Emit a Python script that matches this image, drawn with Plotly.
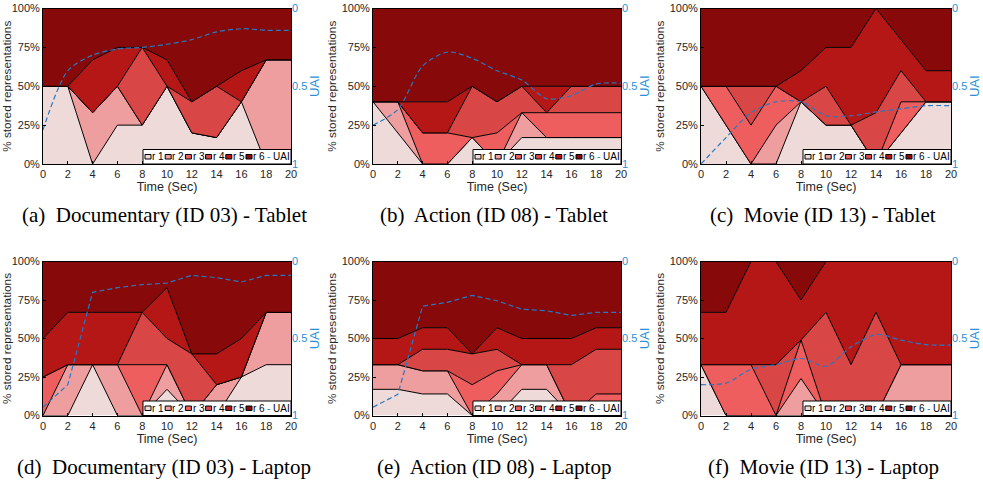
import plotly.graph_objects as go

# ---------------- data ----------------
time_s = [0, 2, 4, 6, 8, 10, 12, 14, 16, 18, 20]
rep_names = ["r 1", "r 2", "r 3", "r 4", "r 5", "r 6"]
tick_pct = [0, 25, 50, 75, 100]
tick_pct_text = ["0%", "25%", "50%", "75%", "100%"]
tick_uai = [0, 0.5, 1]
tick_uai_text = ["0", "0.5", "1"]
captions = [
    "(a)  Documentary (ID 03) - Tablet",
    "(b)  Action (ID 08) - Tablet",
    "(c)  Movie (ID 13) - Tablet",
    "(d)  Documentary (ID 03) - Laptop",
    "(e)  Action (ID 08) - Laptop",
    "(f)  Movie (ID 13) - Laptop",
]

# % of stored representations, per representation r1..r6
doc_tablet = [
    [50, 50, 0, 25, 25, 50, 20, 17, 40, 0, 0],
    [0, 0, 33, 25, 0, 0, 0, 0, 0, 67, 67],
    [0, 0, 0, 0, 0, 0, 0, 0, 0, 0, 0],
    [0, 0, 0, 0, 50, 0, 20, 33, 0, 0, 0],
    [0, 0, 34, 25, 0, 17, 0, 0, 20, 0, 0],
    [50, 50, 33, 25, 25, 33, 60, 50, 40, 33, 33],
]
act_tablet = [
    [40, 20, 0, 0, 17, 0, 17, 17, 17, 17, 17],
    [0, 20, 0, 0, 0, 0, 16, 0, 0, 0, 0],
    [0, 0, 20, 20, 0, 20, 0, 16, 16, 16, 16],
    [0, 0, 0, 0, 33, 20, 17, 0, 17, 17, 17],
    [0, 0, 20, 20, 0, 0, 0, 17, 0, 0, 0],
    [60, 60, 60, 60, 50, 60, 50, 50, 50, 50, 50],
]
mov_tablet = [
    [50, 25, 0, 0, 40, 25, 25, 0, 20, 40, 40],
    [0, 0, 0, 25, 0, 0, 0, 0, 0, 0, 0],
    [0, 25, 25, 25, 0, 0, 0, 0, 20, 0, 0],
    [0, 0, 25, 0, 0, 25, 0, 33, 20, 0, 0],
    [0, 0, 0, 0, 20, 25, 50, 67, 20, 20, 20],
    [50, 50, 50, 50, 40, 25, 25, 0, 20, 40, 40],
]
doc_laptop = [
    [0, 0, 33, 0, 0, 17, 0, 0, 25, 33, 33],
    [0, 33, 0, 33, 0, 16, 0, 20, 0, 34, 34],
    [25, 0, 0, 0, 33, 0, 0, 0, 0, 0, 0],
    [0, 0, 0, 0, 34, 17, 40, 0, 0, 0, 0],
    [25, 34, 34, 34, 0, 33, 0, 20, 25, 0, 0],
    [50, 33, 33, 33, 33, 17, 60, 60, 50, 33, 33],
]
act_laptop = [
    [17, 17, 14, 14, 0, 0, 17, 17, 0, 0, 0],
    [16, 16, 15, 15, 0, 14, 16, 16, 0, 0, 0],
    [0, 0, 0, 0, 20, 15, 0, 0, 0, 14, 14],
    [0, 0, 14, 14, 20, 14, 0, 0, 33, 29, 29],
    [17, 17, 14, 14, 0, 14, 17, 17, 17, 14, 14],
    [50, 50, 43, 43, 60, 43, 50, 50, 50, 43, 43],
]
mov_laptop = [
    [33, 0, 0, 0, 0, 0, 0, 0, 0, 0, 0],
    [0, 0, 0, 0, 24, 0, 0, 0, 33, 33, 33],
    [0, 33, 33, 0, 25, 0, 0, 0, 0, 0, 0],
    [0, 0, 0, 33, 0, 67, 33, 67, 0, 0, 0],
    [34, 34, 67, 67, 26, 33, 67, 33, 67, 67, 67],
    [33, 33, 0, 0, 25, 0, 0, 0, 0, 0, 0],
]

uai_doc_tablet = [0.78, 0.40, 0.30, 0.26, 0.25, 0.23, 0.20, 0.15, 0.13, 0.14, 0.14]
uai_act_tablet = [0.75, 0.65, 0.37, 0.28, 0.32, 0.40, 0.46, 0.58, 0.56, 0.485, 0.48]
uai_mov_tablet = [1.0, 0.83, 0.67, 0.60, 0.60, 0.69, 0.69, 0.665, 0.645, 0.625, 0.625]
uai_doc_laptop = [0.945, 0.80, 0.20, 0.17, 0.15, 0.14, 0.09, 0.105, 0.133, 0.09, 0.09]
uai_act_laptop = [0.946, 0.863, 0.29, 0.265, 0.22, 0.255, 0.31, 0.32, 0.35, 0.33, 0.33]
uai_mov_laptop = [0.80, 0.79, 0.70, 0.67, 0.63, 0.68, 0.554, 0.474, 0.51, 0.54, 0.543]

# ---------------- style ----------------
rep_colors = ["#efdada", "#ee9e9e", "#ee5e5e", "#d94646", "#b51616", "#880909"]
uai_line_color = "#2479c4"
uai_axis_color = "#2a8fd8"
txt = "#262626"
font_fam = "Liberation Sans, Arial, sans-serif"

panel_data = [doc_tablet, act_tablet, mov_tablet, doc_laptop, act_laptop, mov_laptop]
panel_uai = [uai_doc_tablet, uai_act_tablet, uai_mov_tablet,
             uai_doc_laptop, uai_act_laptop, uai_mov_laptop]
uai_shape = ["spline", "spline", "spline", "linear", "linear", "spline"]

W, H = 983, 487
# panel boxes in pixels (x0, x1, ytop, ybottom)
boxes = [(43, 291, 8.5, 164), (373, 621, 8.5, 164), (701, 951, 8.5, 164),
         (43, 291, 261.5, 415.5), (373, 621, 261.5, 415.5), (701, 951, 261.5, 415.5)]
cap_y = [215, 215, 215, 467, 467, 467]

fig = go.Figure()
layout = dict(width=W, height=H, margin=dict(l=0, r=0, t=0, b=0),
              paper_bgcolor="white", plot_bgcolor="white", showlegend=False,
              font=dict(family=font_fam, color=txt, size=11))
shapes = []
annotations = []

for i in range(6):
    xa = "x" if i == 0 else f"x{i+1}"
    ya = "y" if i == 0 else f"y{2*i+1}"
    yb = f"y{2*i+2}"
    x0, x1, yt, ybt = boxes[i]
    pw, ph = x1 - x0, ybt - yt
    for k in range(6):
        fig.add_trace(go.Scatter(
            x=time_s, y=panel_data[i][k], name=rep_names[k],
            mode="lines", stackgroup=f"s{i}",
            line=dict(color="black", width=1),
            fillcolor=rep_colors[k], xaxis=xa, yaxis=ya, hoverinfo="skip"))
    fig.add_trace(go.Scatter(
        x=time_s, y=panel_uai[i], name="UAI", mode="lines",
        line=dict(color=uai_line_color, width=1.2, dash="5px,3px",
                  shape=uai_shape[i], smoothing=0.8),
        xaxis=xa, yaxis=yb, hoverinfo="skip"))

    xkey = "xaxis" if i == 0 else f"xaxis{i+1}"
    ykey = "yaxis" if i == 0 else f"yaxis{2*i+1}"
    y2key = f"yaxis{2*i+2}"
    layout[xkey] = dict(
        domain=[x0 / W, x1 / W], anchor=ya, range=[0, 20],
        tickvals=time_s, ticks="inside", ticklen=3, tickcolor="black",
        showline=True, linecolor="black", linewidth=1, mirror=True,
        showgrid=False, zeroline=False, automargin=False,
        tickfont=dict(size=11, color=txt),
        title=dict(text="Time (Sec)", font=dict(size=12.5, color=txt), standoff=0))
    layout[ykey] = dict(
        domain=[1 - ybt / H, 1 - yt / H], anchor=xa, range=[0, 100],
        tickvals=tick_pct, ticktext=tick_pct_text, ticks="inside", ticklen=3,
        tickcolor="black", showline=True, linecolor="black", linewidth=1,
        mirror=True, showgrid=False, zeroline=False, automargin=False,
        tickfont=dict(size=11, color=txt),
        title=dict(text="% stored representations",
                   font=dict(size=11.8, color=txt), standoff=2))
    layout[y2key] = dict(
        overlaying=ya, anchor=xa, side="right", range=[1, 0],
        tickvals=tick_uai, ticktext=tick_uai_text, ticks="",
        showgrid=False, zeroline=False, showline=False, automargin=False,
        tickfont=dict(size=11, color=uai_axis_color),
        title=dict(text="UAI", font=dict(size=13, color=uai_axis_color),
                   standoff=2))

    # manual legend box in the bottom right corner of each panel
    xr, yr = f"{xa} domain", f"{ya} domain"
    bw = 148.0
    bl = 1 - bw / pw
    shapes.append(dict(type="rect", xref=xr, yref=yr, x0=bl, x1=1,
                       y0=0, y1=14.5 / ph, fillcolor="white",
                       line=dict(color="black", width=1), layer="above"))
    for k in range(6):
        ox = 2 + 20.2 * k
        shapes.append(dict(type="rect", xref=xr, yref=yr,
                           x0=bl + ox / pw, x1=bl + (ox + 6) / pw,
                           y0=5 / ph, y1=9.5 / ph, fillcolor=rep_colors[k],
                           line=dict(color="black", width=1), layer="above"))
        annotations.append(dict(xref=xr, yref=yr, x=bl + (ox + 6.3) / pw,
                                y=7.3 / ph, text=rep_names[k], showarrow=False,
                                xanchor="left", yanchor="middle", borderpad=0,
                                font=dict(size=10, color="black", family=font_fam)))
    annotations.append(dict(xref=xr, yref=yr, x=bl + 122.5 / pw, y=7.3 / ph,
                            text=f"<span style='color:{uai_line_color}'>-</span> UAI",
                            showarrow=False, xanchor="left", yanchor="middle",
                            borderpad=0,
                            font=dict(size=10, color="black", family=font_fam)))
    # caption
    annotations.append(dict(xref="paper", yref="paper",
                            x=(x0 + x1) / 2 / W - 0.003, y=1 - cap_y[i] / H,
                            text=captions[i], showarrow=False,
                            xanchor="center", yanchor="middle",
                            font=dict(size=21, color="black",
                                      family="Liberation Serif, serif")))

layout["shapes"] = shapes
layout["annotations"] = annotations
fig.update_layout(**layout)
fig.write_html("out.html")
